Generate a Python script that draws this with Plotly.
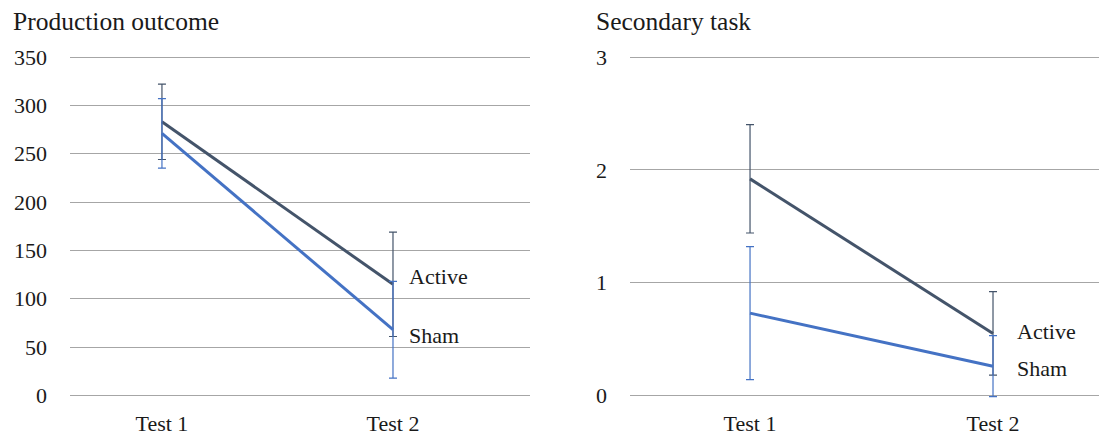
import plotly.graph_objects as go

categories = ["Test 1", "Test 2"]

prod_active = [283, 115]
prod_active_err = [39, 54]
prod_sham = [271, 68]
prod_sham_err = [36, 50]

sec_active = [1.92, 0.55]
sec_active_err = [0.48, 0.37]
sec_sham = [0.73, 0.26]
sec_sham_err = [0.59, 0.27]

titles = ["Production outcome", "Secondary task"]
series_names = ["Active", "Sham"]

ACTIVE = "#44546A"
SHAM = "#4472C4"
FONT = "Liberation Serif"
TXT = "#1a1a1a"
W, H = 1107, 434
OFF = 8  # page body margin offset

fig = go.Figure()

def add_series(xa, ya, y, err, color):
    fig.add_trace(go.Scatter(
        x=[0, 1], y=y, mode="lines",
        line=dict(color=color, width=3),
        error_y=dict(type="data", array=err, visible=True, color=color,
                     thickness=1.2, width=4),
        xaxis=xa, yaxis=ya, showlegend=False, hoverinfo="skip"))

add_series("x", "y", prod_active, prod_active_err, ACTIVE)
add_series("x", "y", prod_sham, prod_sham_err, SHAM)
add_series("x2", "y2", sec_active, sec_active_err, ACTIVE)
add_series("x2", "y2", sec_sham, sec_sham_err, SHAM)

# plot area (in reference pixels): value-0 at 395.5, top value at 57, 3px padding
top_px, bot_px = 57 - OFF, 395.5 - OFF
pad = 3
ydom = [1 - (bot_px + pad) / H, 1 - (top_px - pad) / H]
span = bot_px - top_px
p1 = pad * 350 / span
p2 = pad * 3 / span

grid = dict(showgrid=True, gridcolor="#A6A6A6", gridwidth=1, zeroline=False,
            showline=False, ticks="", automargin=False, ticklabelstandoff=22,
            tickfont=dict(family=FONT, size=22, color=TXT))
xcommon = dict(showgrid=False, zeroline=False, showline=False, ticks="", automargin=False,
               tickvals=[0, 1], ticktext=categories, ticklabelstandoff=9,
               tickfont=dict(family=FONT, size=22, color=TXT))

fig.update_layout(
    template="none",
    width=W, height=H,
    margin=dict(l=0, r=0, t=0, b=0, pad=0),
    paper_bgcolor="white", plot_bgcolor="white",
    xaxis=dict(domain=[(70 - OFF) / W, (530 - OFF) / W], range=[-0.398, 1.593], anchor="y", **xcommon),
    yaxis=dict(domain=ydom, range=[-p1, 350 + p1], tickvals=[0, 50, 100, 150, 200, 250, 300, 350],
               anchor="x", **grid),
    xaxis2=dict(domain=[(630 - OFF) / W, (1106 - OFF) / W], range=[-0.494, 1.465], anchor="y2", **xcommon),
    yaxis2=dict(domain=ydom, range=[-p2, 3 + p2], tickvals=[0, 1, 2, 3],
                anchor="x2", **grid),
)

# panel titles
fig.add_annotation(text=titles[0], xref="paper", yref="paper", x=3 / W, y=1 - 14 / H,
                   xanchor="left", yanchor="middle", showarrow=False,
                   font=dict(family=FONT, size=25.5, color=TXT))
fig.add_annotation(text=titles[1], xref="paper", yref="paper", x=586 / W, y=1 - 14 / H,
                   xanchor="left", yanchor="middle", showarrow=False,
                   font=dict(family=FONT, size=25.5, color=TXT))

# series labels
lab = dict(showarrow=False, xanchor="left", yanchor="middle",
           font=dict(family=FONT, size=22, color=TXT))
fig.add_annotation(text=series_names[0], x=1, y=123, xref="x", yref="y", xshift=14, **lab)
fig.add_annotation(text=series_names[1], x=1, y=62.5, xref="x", yref="y", xshift=14, **lab)
fig.add_annotation(text=series_names[0], x=1, y=0.566, xref="x2", yref="y2", xshift=22, **lab)
fig.add_annotation(text=series_names[1], x=1, y=0.235, xref="x2", yref="y2", xshift=22, **lab)

fig.write_html("out.html")
